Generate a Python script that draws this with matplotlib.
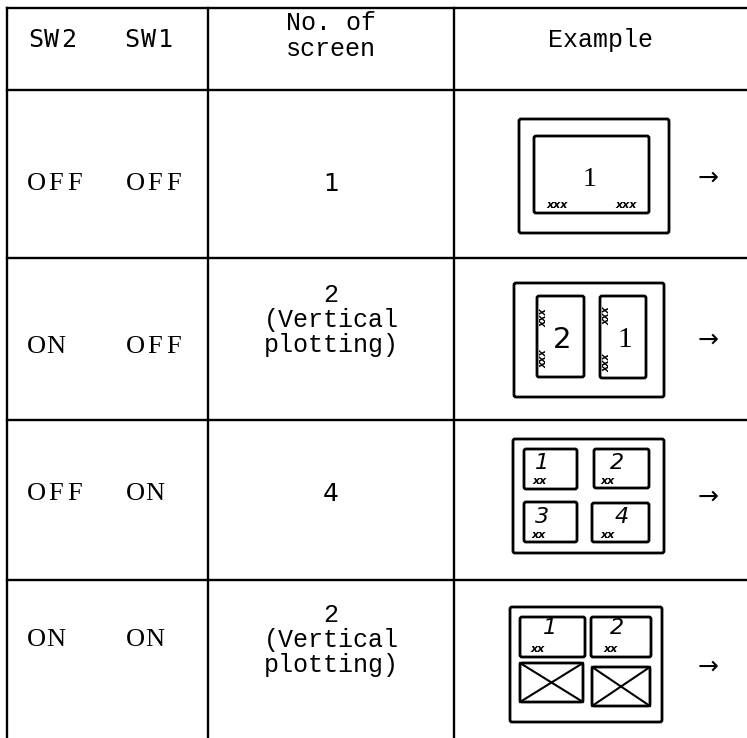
import matplotlib
matplotlib.use("Agg")
import matplotlib.pyplot as plt
from matplotlib.patches import FancyBboxPatch

# table content
headers = ["SW2", "SW1", "No. of\nscreen", "Example"]
sw2 = ["OFF", "ON", "OFF", "ON"]
sw1 = ["OFF", "OFF", "ON", "ON"]
screens = ["1", "2\n(Vertical\nplotting)", "4", "2\n(Vertical\nplotting)"]

# layout (pixels)
W, H = 747, 738
left, top = 7, 8
col_lines = [208, 454]
row_lines = [90, 258, 420, 580]
row_text_y = [184, 347, 494, 640]
screen_y = [184, 320, 494, 640]

fig = plt.figure(figsize=(W / 100, H / 100), dpi=100)
ax = fig.add_axes([0, 0, 1, 1])
ax.set_xlim(0, W)
ax.set_ylim(H, 0)
ax.axis("off")

lw = 1.7
ax.plot([left, W], [top, top], color="black", lw=lw)
ax.plot([left, left], [top, H], color="black", lw=lw)
for x in col_lines:
    ax.plot([x, x], [top, H], color="black", lw=lw)
for y in row_lines:
    ax.plot([left, W], [y, y], color="black", lw=lw)

mono = "Liberation Mono"


def spaced(x0, y, s, pitch=20, **kw):
    # typewriter look: fixed letter pitch, left aligned at x0
    for k, ch in enumerate(s):
        ax.text(x0 + pitch * (k + 0.5), y, ch, ha="center", va="center", **kw)


spaced(27, 40, headers[0], pitch=16.5, fontsize=18, family="DejaVu Sans Mono")
spaced(124, 40, headers[1], pitch=16.5, fontsize=18, family="DejaVu Sans Mono")
ax.text(331, 36, headers[2], fontsize=18, family=mono, ha="center", va="center", linespacing=1.15)
ax.text(600, 40, headers[3], fontsize=18, family=mono, ha="center", va="center")

for i in range(4):
    spaced(27, row_text_y[i], sw2[i], pitch=19, fontsize=19, family="Liberation Serif")
    spaced(126, row_text_y[i], sw1[i], pitch=19, fontsize=19, family="Liberation Serif")
    if "\n" in screens[i]:
        ax.text(331, screen_y[i], screens[i], fontsize=18, family=mono, ha="center",
                va="center", linespacing=1.05)
    else:
        ax.text(331, screen_y[i], screens[i], fontsize=18, family="DejaVu Sans",
                ha="center", va="center")


def box(x0, y0, x1, y1, w=2.0):
    p = FancyBboxPatch((x0, y0), x1 - x0, y1 - y0, boxstyle="round,pad=0,rounding_size=2",
                       fill=False, ec="black", lw=w)
    ax.add_patch(p)


def marks(x, y, s, size=8, rot=0):
    ax.text(x, y, s, fontsize=size, family="DejaVu Sans", style="italic",
            weight="bold", ha="center", va="center", rotation=rot)


# row 1: one screen
box(519, 119, 669, 233)
box(534, 136, 649, 213)
ax.text(590, 180, "1", fontsize=20, family="Liberation Serif", ha="center", va="center")
marks(557, 205, "xxx")
marks(626, 205, "xxx")

# row 2: two vertical screens
box(514, 283, 664, 397)
box(537, 296, 584, 377)
box(600, 296, 646, 378)
ax.text(562, 340, "2", fontsize=21, family="DejaVu Sans", ha="center", va="center")
ax.text(625, 340, "1", fontsize=21, family="Liberation Serif", ha="center", va="center")
marks(543, 318, "xxx", 7, 90)
marks(543, 359, "xxx", 7, 90)
marks(606, 316, "xxx", 7, 90)
marks(606, 363, "xxx", 7, 90)

# row 3: four screens
box(513, 439, 664, 553)
box(524, 449, 577, 489)
box(594, 449, 649, 488)
box(524, 502, 577, 542)
box(592, 503, 649, 542)
hand = dict(fontsize=16, family="DejaVu Sans", style="italic", ha="center", va="center")
ax.text(542, 463, "1", **hand)
ax.text(617, 463, "2", **hand)
ax.text(542, 517, "3", **hand)
ax.text(622, 517, "4", **hand)
marks(540, 481, "xx")
marks(608, 481, "xx")
marks(539, 535, "xx")
marks(608, 535, "xx")

# row 4: two screens, lower half blanked
box(510, 607, 662, 722)
box(520, 617, 585, 657)
box(591, 617, 651, 657)
box(520, 663, 583, 702)
box(592, 667, 650, 706)
for (x0, y0, x1, y1) in [(520, 663, 583, 702), (592, 667, 650, 706)]:
    ax.plot([x0, x1], [y0, y1], color="black", lw=1.5)
    ax.plot([x0, x1], [y1, y0], color="black", lw=1.5)
ax.text(550, 628, "1", **hand)
ax.text(617, 628, "2", **hand)
marks(538, 649, "xx")
marks(611, 649, "xx")

# arrows
for y in [178, 340, 497, 667]:
    ax.text(708, y, "\u2192", fontsize=18, family="DejaVu Sans", ha="center", va="center")

fig.savefig("out.png", dpi=100)
